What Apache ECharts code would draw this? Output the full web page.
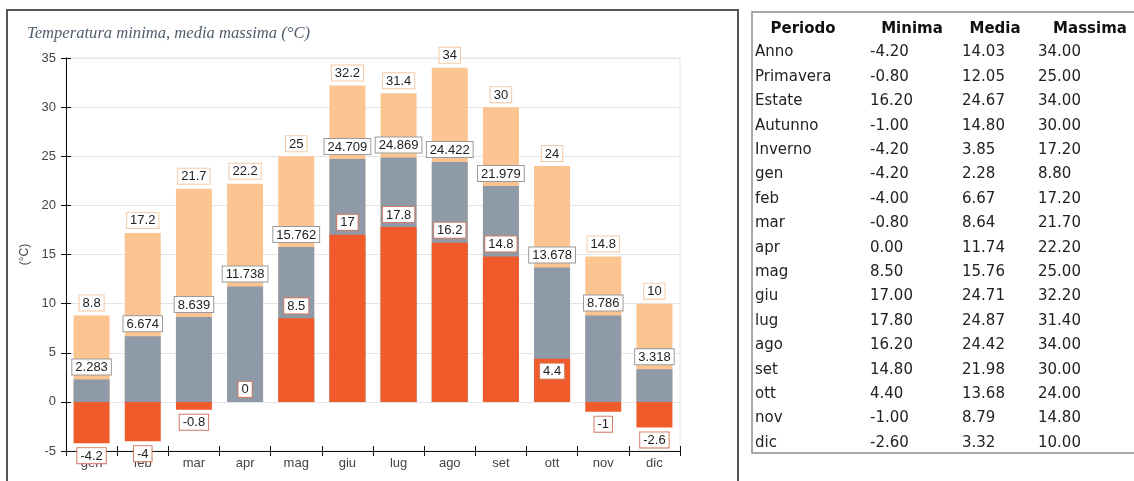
<!DOCTYPE html>
<html><head><meta charset="utf-8">
<script src="https://cdn.jsdelivr.net/npm/echarts@6/dist/echarts.min.js"></script>
<style>html,body{margin:0;padding:0;background:#fff}#c{width:1134px;height:481px}</style>
</head><body><div id="c"></div>
<script>
const months = ['gen','feb','mar','apr','mag','giu','lug','ago','set','ott','nov','dic'];
const monthMin = [-4.2,-4,-0.8,0,8.5,17,17.8,16.2,14.8,4.4,-1,-2.6];
const monthMean = [2.283,6.674,8.639,11.738,15.762,24.709,24.869,24.422,21.979,13.678,8.786,3.318];
const monthMax = [8.8,17.2,21.7,22.2,25,32.2,31.4,34,30,24,14.8,10];
const yTicks = [-5,0,5,10,15,20,25,30,35];

const tableHeader = ['Periodo','Minima','Media','Massima'];
const periods = ['Anno','Primavera','Estate','Autunno','Inverno','gen','feb','mar','apr','mag','giu','lug','ago','set','ott','nov','dic'];
const tabMin = [-4.20,-0.80,16.20,-1.00,-4.20,-4.20,-4.00,-0.80,0.00,8.50,17.00,17.80,16.20,14.80,4.40,-1.00,-2.60];
const tabMean = [14.03,12.05,24.67,14.80,3.85,2.28,6.67,8.64,11.74,15.76,24.71,24.87,24.42,21.98,13.68,8.79,3.32];
const tabMax = [34.00,25.00,34.00,30.00,17.20,8.80,17.20,21.70,22.20,25.00,32.20,31.40,34.00,30.00,24.00,14.80,10.00];

const chart = echarts.init(document.getElementById('c'), null, {renderer:'canvas'});

const lblBase = {show:true, fontFamily:'Liberation Sans, Arial, sans-serif', fontSize:13, color:'#222',
  backgroundColor:'#fff', borderWidth:1, padding:[1,3,0,3], lineHeight:14, distance:5};

const minData = monthMin.map((v,i)=>({value:v, label:{position: v<0 ? 'bottom' : (i===9 ? 'insideTop' : 'top')}}));

// table graphics
const g = [];
g.push({type:'rect', shape:{x:7,y:10,width:731,height:490}, style:{fill:null, stroke:'#555', lineWidth:2}, z:0});
g.push({type:'rect', shape:{x:752,y:12,width:400,height:441}, style:{fill:null, stroke:'#8c8c8c', lineWidth:1.5}, z:0});
const tf = 'DejaVu Sans, Verdana, sans-serif';
const hx = [803,912,995,1090];
tableHeader.forEach((h,i)=>g.push({type:'text', x:hx[i], y:29, style:{text:h, font:'bold 15px '+tf, fill:'#111', align:'center', verticalAlign:'middle'}}));
const cx = [755,870,962,1038];
periods.forEach((p,r)=>{
  const y = 52.5 + r*24.4;
  const vals = [p, tabMin[r].toFixed(2), tabMean[r].toFixed(2), tabMax[r].toFixed(2)];
  vals.forEach((t,c)=>g.push({type:'text', x:cx[c], y:y, style:{text:t, font:'15px '+tf, fill:'#222', align:'left', verticalAlign:'middle'}}));
});

const option = {
  animation:false,
  backgroundColor:'#fff',
  title:{text:'Temperatura minima, media massima (°C)', left:22, top:20,
    textStyle:{fontFamily:'Liberation Serif, Times New Roman, serif', fontStyle:'italic', fontWeight:'normal', fontSize:16.6, color:'#4f5d6d'}},
  grid:{left:66, right:454, top:58, bottom:30, show:true, borderColor:'#e4e4e4', borderWidth:1},
  xAxis:[
    {type:'category', data:months, position:'bottom',
     axisLine:{onZero:false, lineStyle:{color:'#111', width:1}},
     axisTick:{show:true, length:5, lineStyle:{color:'#111'}},
     axisLabel:{color:'#444', fontSize:13, fontFamily:'Liberation Sans, Arial, sans-serif', margin:6},
     splitLine:{show:false}},
    {type:'category', data:months, position:'bottom',
     axisLine:{show:false, onZero:false}, axisTick:{show:true, inside:true, length:5, lineStyle:{color:'#111'}},
     axisLabel:{show:false}, splitLine:{show:false}}
  ],
  yAxis:[
    {type:'value', min:-5, max:35, interval:5, position:'left',
     name:'(°C)', nameLocation:'middle', nameGap:31, nameRotate:90,
     nameTextStyle:{color:'#444', fontSize:12, fontFamily:'Liberation Sans, Arial, sans-serif'},
     axisLine:{show:true, lineStyle:{color:'#111'}},
     axisTick:{show:true, length:5, lineStyle:{color:'#111'}},
     axisLabel:{color:'#444', fontSize:13, fontFamily:'Liberation Sans, Arial, sans-serif', margin:10},
     splitLine:{show:true, lineStyle:{color:'#e4e4e4'}}},
    {type:'value', min:-5, max:35, interval:5, position:'left',
     axisLine:{show:false}, axisTick:{show:true, inside:true, length:5, lineStyle:{color:'#111'}},
     axisLabel:{show:false}, splitLine:{show:false}}
  ],
  series:[
    {name:'Massima', type:'bar', data:monthMax, barWidth:36, barGap:'-100%',
     itemStyle:{color:'#fbc490'},
     label:Object.assign({}, lblBase, {position:'top', borderColor:'#f6c9a4'})},
    {name:'Media', type:'bar', data:monthMean, barWidth:36, barGap:'-100%',
     itemStyle:{color:'#8f9aa8'},
     label:Object.assign({}, lblBase, {position:'top', borderColor:'#9a9a9a'})},
    {name:'Minima', type:'bar', data:minData, barWidth:36, barGap:'-100%',
     itemStyle:{color:'#ef5b2b'},
     label:Object.assign({}, lblBase, {position:'top', borderColor:'#d27a62'})}
  ],
  graphic:g
};
chart.setOption(option);
</script></body></html>
